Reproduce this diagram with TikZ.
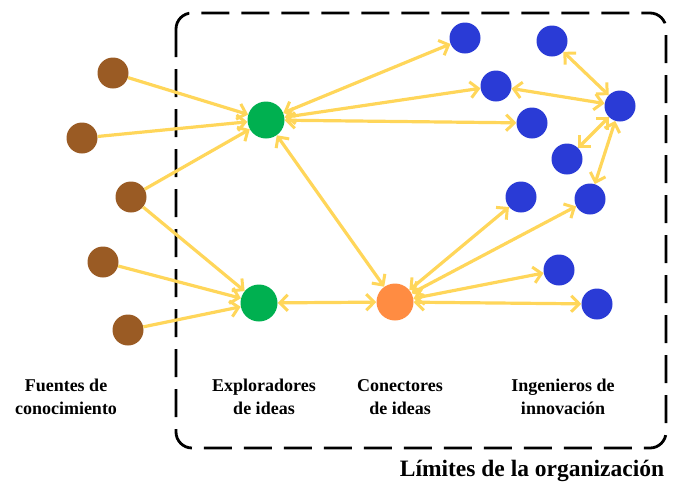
\documentclass[tikz,border=0pt]{standalone}
\usepackage{fontspec}
\setmainfont{Liberation Serif}
\usetikzlibrary{arrows.meta}
\definecolor{cbrown}{RGB}{154,91,36}
\definecolor{cgreen}{RGB}{0,176,80}
\definecolor{corange}{RGB}{255,140,66}
\definecolor{cblue}{RGB}{42,59,214}
\definecolor{cyel}{RGB}{255,214,90}
\tikzset{
  src/.style={circle,fill=cbrown,minimum size=31pt,inner sep=0pt},
  expl/.style={circle,fill=cgreen,minimum size=37pt,inner sep=0pt},
  conn/.style={circle,fill=corange,minimum size=37pt,inner sep=0pt},
  ing/.style={circle,fill=cblue,minimum size=31pt,inner sep=0pt},
  tip/.tip={Straight Barb[length=8pt,width=16pt,line width=3pt]},
  link/.style={draw=cyel,line width=3.2pt,-tip},
  dlink/.style={draw=cyel,line width=3.2pt,tip-tip},
  lbl/.style={font=\fontsize{18}{23}\selectfont\bfseries,align=center,inner sep=0pt},
  border/.style={draw=black,line width=2.8pt,dash pattern=on 28pt off 12pt,rounded corners=16pt}
}
\begin{document}
\begin{tikzpicture}[x=1pt,y=-1pt]
\useasboundingbox (0,0) rectangle (677,485);
\draw[border] (176,13) rectangle (666,448);
% nodes
\node[src] (b1) at (113,73) {};
\node[src] (b2) at (82,138) {};
\node[src] (b3) at (131,197) {};
\node[src] (b4) at (103,262) {};
\node[src] (b5) at (128,330) {};
\node[expl] (e1) at (266,120) {};
\node[expl] (e2) at (259,303) {};
\node[conn] (c) at (395,302) {};
\node[ing] (u1) at (465,38) {};
\node[ing] (u2) at (496,86) {};
\node[ing] (u3) at (532,123) {};
\node[ing] (u4) at (552,41) {};
\node[ing] (u5) at (620,106) {};
\node[ing] (u6) at (567,159) {};
\node[ing] (u7) at (590,199) {};
\node[ing] (u8) at (521,197) {};
\node[ing] (u9) at (559,270) {};
\node[ing] (u10) at (597,304) {};
% connectors
\draw[link] (b1) -- (e1);
\draw[link] (b2) -- (e1);
\draw[link] (b3) -- (e1);
\draw[link] (b3) -- (e2);
\draw[link] (b4) -- (e2);
\draw[link] (b5) -- (e2);
\draw[dlink] (e1) -- (u1);
\draw[dlink] (e1) -- (u2);
\draw[dlink] (e1) -- (u3);
\draw[dlink] (e1) -- (c);
\draw[dlink] (e2) -- (c);
\draw[dlink] (c) -- (u8);
\draw[dlink] (c) -- (u7);
\draw[dlink] (c) -- (u9);
\draw[dlink] (c) -- (u10);
\draw[dlink] (u4) -- (u5);
\draw[dlink] (u2) -- (u5);
\draw[dlink] (u6) -- (u5);
\draw[dlink] (u7) -- (u5);
% labels
\node[lbl] (t1) at (66,397) {Fuentes de\\conocimiento};
\node[lbl] (t2) at (264,397) {Exploradores\\de ideas};
\node[lbl] (t3) at (400,397) {Conectores\\de ideas};
\node[lbl] (t4) at (563,397) {Ingenieros de\\innovación};
\node[font=\fontsize{23.5}{28}\selectfont\bfseries,inner sep=0pt] (t5) at (532,471) {Límites de la organización};
\end{tikzpicture}
\end{document}
